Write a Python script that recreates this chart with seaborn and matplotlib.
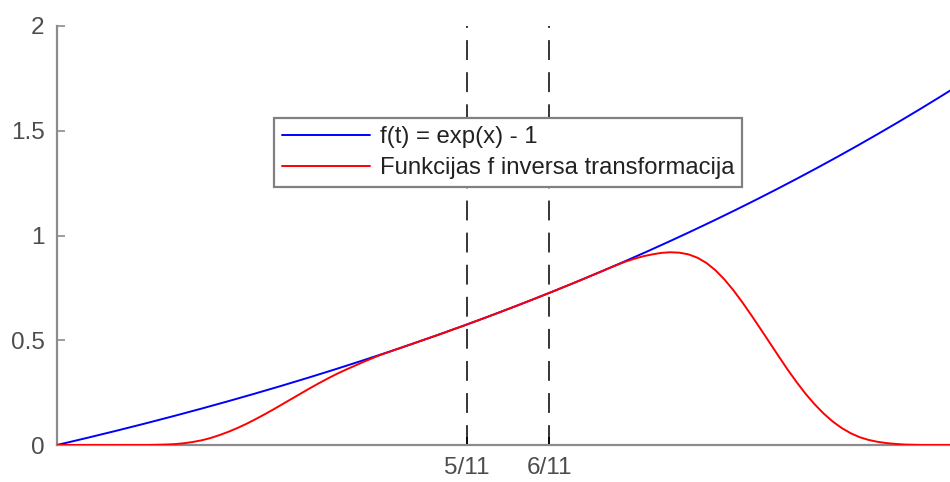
import numpy as np
import pandas as pd
import matplotlib
matplotlib.use("Agg")
import matplotlib.pyplot as plt
import seaborn as sns

# Marked points on the t axis
marks = [5 / 11, 6 / 11]
mark_labels = ["5/11", "6/11"]

# y-axis ticks
y_ticks = [0, 0.5, 1, 1.5, 2]
y_tick_labels = ["0", "0.5", "1", "1.5", "2"]

# Series labels
label_f = "f(t) = exp(x) - 1"
label_inv = "Funkcijas f inversa transformacija"

# f(t) = exp(t) - 1 on [0, 1]
t_f = np.linspace(0, 1, 401)
f_vals = np.expm1(t_f)

# Inverse transform of f, sampled on a 0.01 grid over [0, 1]
t_inv = np.round(np.arange(0, 1.0001, 0.01), 2)
inv_vals = [
    0.000, 0.000, 0.000, 0.000, 0.000, 0.000, 0.000, 0.000, 0.000, 0.000,  # 0.00-0.09
    0.000, 0.001, 0.002, 0.004, 0.008, 0.014, 0.022, 0.033, 0.047, 0.063,  # 0.10-0.19
    0.081, 0.101, 0.123, 0.146, 0.170, 0.195, 0.220, 0.245, 0.270, 0.294,  # 0.20-0.29
    0.317, 0.339, 0.359, 0.378, 0.397, 0.415, 0.432, 0.447, 0.462, 0.477,  # 0.30-0.39
    0.492, 0.507, 0.522, 0.537, 0.553, 0.568, 0.584, 0.600, 0.616, 0.632,  # 0.40-0.49
    0.649, 0.665, 0.682, 0.699, 0.716, 0.733, 0.751, 0.768, 0.786, 0.804,  # 0.50-0.59
    0.822, 0.840, 0.858, 0.875, 0.889, 0.901, 0.910, 0.917, 0.920, 0.918,  # 0.60-0.69
    0.910, 0.894, 0.869, 0.834, 0.790, 0.738, 0.680, 0.618, 0.554, 0.489,  # 0.70-0.79
    0.424, 0.360, 0.300, 0.244, 0.194, 0.150, 0.112, 0.081, 0.056, 0.037,  # 0.80-0.89
    0.024, 0.015, 0.009, 0.005, 0.002, 0.001, 0.000, 0.000, 0.000, 0.000,  # 0.90-0.99
    0.000,                                                                 # 1.00
]

sns.set_theme(style="white")
plt.rcParams["font.family"] = ["Liberation Sans", "DejaVu Sans"]

W, H = 950, 482
fig = plt.figure(figsize=(W / 100, H / 100), dpi=100)
# axes span 57 px .. 959 px horizontally (right part runs past the canvas)
ax = fig.add_axes([57 / W, 37 / H, 902 / W, 419 / H])

df_f = pd.DataFrame({"t": t_f, "y": f_vals})
df_inv = pd.DataFrame({"t": t_inv, "y": inv_vals})

sns.lineplot(data=df_f, x="t", y="y", ax=ax, color="#0000ff", linewidth=1.4,
             label=label_f, sort=False, zorder=3)
sns.lineplot(data=df_inv, x="t", y="y", ax=ax, color="#ff0000", linewidth=1.4,
             label=label_inv, sort=False, zorder=3)

for m in marks:
    ax.axvline(m, ymin=0, ymax=1, color="black", linewidth=1.1,
               dashes=(13, 8), zorder=2)

ax.set_xlim(0, 1)
ax.set_ylim(0, 2)
ax.set_xlabel("")
ax.set_ylabel("")

ax.set_xticks(marks)
ax.set_xticklabels(mark_labels)
ax.set_yticks(y_ticks)
ax.set_yticklabels(y_tick_labels)

spine_col = "#8c8c8c"
for side in ["top", "right"]:
    ax.spines[side].set_visible(False)
for side in ["left", "bottom"]:
    ax.spines[side].set_visible(True)
    ax.spines[side].set_color(spine_col)
    ax.spines[side].set_linewidth(1.6)

ax.tick_params(axis="both", which="major", direction="in", length=6,
               width=1.2, colors=spine_col, labelcolor="#4d4d4d",
               labelsize=17.5)
ax.tick_params(axis="y", pad=9, left=True)
ax.tick_params(axis="x", pad=9, bottom=True, color="black")

leg = ax.legend(loc="upper left", bbox_to_anchor=(274 / W, 1 - 118 / H),
                bbox_transform=fig.transFigure, borderaxespad=0,
                fontsize=17.2, frameon=True, fancybox=False, framealpha=1,
                edgecolor="#808080", handlelength=3.65, handletextpad=0.42,
                borderpad=0.35, labelspacing=0.36)
leg.get_frame().set_linewidth(1.6)
for txt in leg.get_texts():
    txt.set_color("#222222")

fig.savefig("out.png", dpi=100)
